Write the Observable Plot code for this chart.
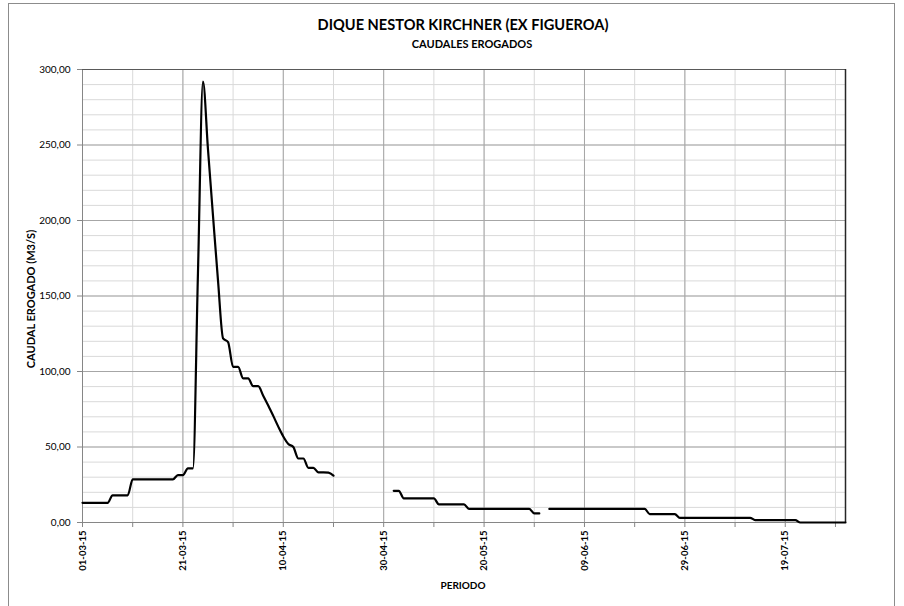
<!DOCTYPE html>
<html>
<head>
<meta charset="utf-8">
<script src="https://cdn.jsdelivr.net/npm/d3@7"></script>
<script src="https://cdn.jsdelivr.net/npm/@observablehq/plot@0.6"></script>
<style>
  html, body { margin: 0; padding: 0; background: #fff; }
  #wrap { position: relative; width: 904px; height: 606px; overflow: hidden; font-family: Lato, "Open Sans", sans-serif; }
  #wrap svg { position: absolute; left: 0; top: 0; }
  .border { position: absolute; left: 8px; top: 3px; width: 887px; height: 620px; border: 1px solid #8c8c8c; box-sizing: border-box; }
  .t { position: absolute; font-weight: bold; color: #000; white-space: nowrap; }
  #title { left: 0; width: 926px; text-align: center; top: 16px; font-size: 14.6px; }
  #subtitle { left: 0; width: 944px; text-align: center; top: 37px; font-size: 11px; }
  #xlabel { left: 0; width: 926px; text-align: center; top: 579px; font-size: 10px; }
  #ylabel { left: 30px; top: 299px; font-size: 11px; transform: translate(-50%, -50%) rotate(-90deg); }
</style>
</head>
<body>
<div id="wrap">
  <div class="border"></div>
  <div class="t" id="title">DIQUE NESTOR KIRCHNER (EX FIGUEROA)</div>
  <div class="t" id="subtitle">CAUDALES EROGADOS</div>
  <div class="t" id="ylabel">CAUDAL EROGADO (M3/S)</div>
  <div class="t" id="xlabel">PERIODO</div>
</div>
<script>
// Daily series starting 01-03-15 (one value per day, null = no data)
const startDate = "2015-03-01";
const endDate = "2015-07-31";
const caudal = [
  13, 13, 13, 13, 13, 13,                 // 01-03 .. 06-03
  18, 18, 18, 18,                         // 07-03 .. 10-03
  28.5, 28.5, 28.5, 28.5, 28.5, 28.5, 28.5, 28.5, 28.5, // 11-03 .. 19-03
  31.4, 31.4,                             // 20-03 .. 21-03
  35.8, 35.8,                             // 22-03 .. 23-03
  165, 292, 247, 203, 160, 122, 119.5,    // 24-03 .. 30-03
  103, 103, 95.5, 95.4, 90.3, 90.3,       // 31-03 .. 05-04
  84, 77.5, 70.6, 63.5, 57, 52, 50,       // 06-04 .. 12-04
  42.4, 42.4, 36.2, 36.2, 33.2, 33.2, 33, 31, // 13-04 .. 20-04
  null, null, null, null, null, null, null, null, null, null, null, // 21-04 .. 01-05
  21, 21,                                 // 02-05 .. 03-05
  16, 16, 16, 16, 16, 16, 16,             // 04-05 .. 10-05
  12, 12, 12, 12, 12, 12,                 // 11-05 .. 16-05
  9, 9, 9, 9, 9, 9, 9, 9, 9, 9, 9, 9, 9,  // 17-05 .. 29-05
  6, 6,                                   // 30-05 .. 31-05
  null,                                   // 01-06
  9, 9, 9, 9, 9, 9, 9, 9, 9, 9, 9, 9, 9, 9, 9, 9, 9, 9, 9, 9, // 02-06 .. 21-06
  5.6, 5.6, 5.6, 5.6, 5.6, 5.6,           // 22-06 .. 27-06
  3.1, 3.1, 3.1, 3.1, 3.1, 3.1, 3.1, 3.1, 3.1, 3.1, 3.1, 3.1, 3.1, 3.1, 3.1, // 28-06 .. 12-07
  1.6, 1.6, 1.6, 1.6, 1.6, 1.6, 1.6, 1.6, 1.6, // 13-07 .. 21-07
  0, 0, 0, 0, 0, 0, 0, 0, 0, 0            // 22-07 .. 31-07
];
const xTickLabels = ["2015-03-01", "2015-03-21", "2015-04-10", "2015-04-30", "2015-05-20", "2015-06-09", "2015-06-29", "2015-07-19"];
const yTicks = [0, 50, 100, 150, 200, 250, 300];

const start = new Date(startDate + "T00:00:00Z");
const end = new Date(endDate + "T00:00:00Z");
const data = caudal.map((v, i) => ({ date: d3.utcDay.offset(start, i), value: v }));
const xMajor = xTickLabels.map(s => new Date(s + "T00:00:00Z"));
const xMinor = d3.utcDay.range(start, d3.utcDay.offset(end, 1), 10);
const yMinor = d3.range(0, 301, 10);

const fmtY = d => d.toFixed(2).replace(".", ",");
const fmtX = d3.utcFormat("%d-%m-%y");

const chart = Plot.plot({
  width: 904,
  height: 606,
  marginLeft: 82,
  marginRight: 59,
  marginTop: 69,
  marginBottom: 84,
  style: { fontFamily: "Lato, 'Open Sans', sans-serif", background: "transparent", color: "#000" },
  x: { type: "utc", domain: [start, end] },
  y: { domain: [0, 300] },
  marks: [
    Plot.ruleY(yMinor, { stroke: "#d9d9d9", strokeWidth: 1 }),
    Plot.ruleX(xMinor, { stroke: "#d9d9d9", strokeWidth: 1 }),
    Plot.ruleY(yTicks, { stroke: "#a6a6a6", strokeWidth: 1 }),
    Plot.ruleX(xMajor, { stroke: "#a6a6a6", strokeWidth: 1 }),
    Plot.axisY({ ticks: yTicks, tickFormat: fmtY, tickSize: 5, tickPadding: 7, label: null, fontSize: 10, stroke: "#868686" }),
    Plot.axisX({ ticks: xMinor, tickFormat: d => (xMajor.some(m => +m === +d) ? fmtX(d) : ""), tickSize: 5, tickPadding: 3, tickRotate: -90, label: null, fontSize: 9.5, fontWeight: "bold", stroke: "#868686" }),
    Plot.ruleX([start], { stroke: "#868686" }),
    Plot.ruleY([0], { stroke: "#868686" }),
    Plot.ruleY([300], { stroke: "#595959" }),
    Plot.ruleX([end], { stroke: "#262626", strokeWidth: 1.5 }),
    Plot.line(data, { x: "date", y: "value", curve: "monotone-x", stroke: "#000", strokeWidth: 2.2 })
  ]
});
document.getElementById("wrap").prepend(chart);
</script>
</body>
</html>
